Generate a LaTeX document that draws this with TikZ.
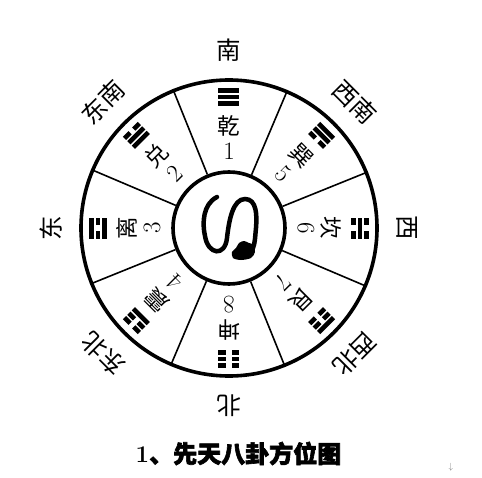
\documentclass[tikz,border=0pt]{standalone}
\usepackage{fontspec}
\newfontfamily\cjk{Noto Sans CJK SC}
\newfontfamily\cjkbold[FakeBold=2.5]{Noto Sans CJK SC}

% one line of a trigram: height, 1 = solid, 0 = broken
\newcommand{\yao}[2]{%
  \ifnum#2=1
    \fill (-10.5,#1-2.3) rectangle (10.5,#1+2.3);
  \else
    \fill (-10.5,#1-2.3) rectangle (-2.6,#1+2.3);
    \fill (2.6,#1-2.3) rectangle (10.5,#1+2.3);
  \fi}

\begin{document}
\begin{tikzpicture}[x=1pt, y=1pt,
  fang/.style={font=\cjk\fontsize{24.5}{28}\selectfont, inner sep=0pt},
  ming/.style={font=\cjk\fontsize{22.5}{26}\selectfont, inner sep=0pt},
  shu/.style={font=\fontsize{25}{28}\selectfont, inner sep=0pt}]
 \useasboundingbox (-229,-249) rectangle (253,228);
 \node [circle,draw,line width=3.6pt,minimum size=296pt] (rim) at (0,0) {};
 \node [circle,draw,line width=3.6pt,minimum size=112pt] (hub) at (0,0) {};
 \foreach \a in {22.5,67.5,...,337.5}
   \draw [line width=1.6pt] (hub.\a) -- (rim.\a);
 \foreach \a/\t [count=\i] in {90/南,45/西南,0/西,-45/西北,-90/北,-135/东北,180/东,135/东南}
   \node [fang,rotate=\a-90] (fang\i) at (\a:178) {\t};
 \foreach \a/\n/\k/\p/\q/\r in {90/乾/1/1/1/1, 135/兑/2/1/1/0, 180/离/3/1/0/1,
     225/震/4/1/0/0, 45/巽/5/0/1/1, 0/坎/6/0/1/0, -45/艮/7/0/0/1, -90/坤/8/0/0/0}
 {
   \node [ming,rotate=\a-90] (ming\k) at (\a:102) {\n};
   \node [shu,rotate=\a-90] (shu\k) at (\a:77) {\k};
   \begin {scope} [shift={(\a:131)},rotate=\a-90]
     \yao{-6.3}{\p} \yao{0}{\q} \yao{6.3}{\r}
   \end {scope}
 }
 \begin {scope}
  \draw [line width=4.5pt,line cap=round] (-12,31) .. controls (-26,24) and (-27,5) .. (-24,-8)
     .. controls (-21,-27) and (-4,-29) .. (-2,-10) .. controls (0,8) and (4,29) .. (16,29)
     .. controls (28,29) and (28,12) .. (27,0) .. controls (26,-10) and (26,-15) .. (24,-20);
  \fill plot [smooth cycle] coordinates {(4,-30) (3,-24) (7,-20) (10,-15) (15,-13) (20,-15)
     (25,-17) (26,-24) (22,-30) (12,-32)};
 \end {scope}
 \node (biaoti) at (9.5,-225.5) {\fontsize{24}{28}\selectfont\bfseries 1\cjkbold 、先天八卦方位图};
 \node [gray,font=\fontsize{9}{10}\selectfont] (fuhao) at (222,-239) {$\downarrow$};
\end{tikzpicture}
\end{document}
